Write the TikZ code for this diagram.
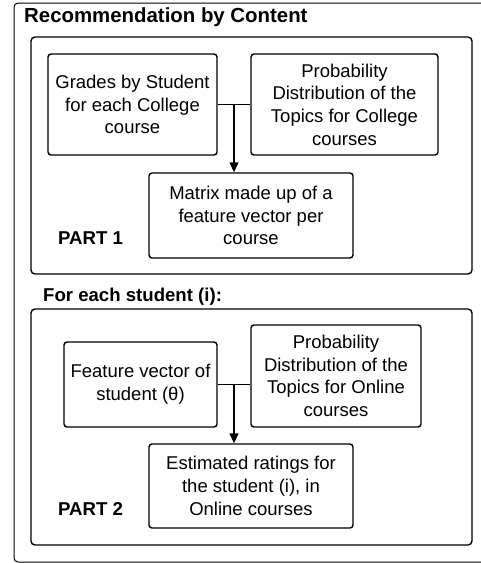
\documentclass[tikz,border=0pt]{standalone}
\usepackage{fontspec}
\setmainfont{Liberation Sans}
\usetikzlibrary{arrows.meta, positioning, calc}

\tikzset{
    stepbox/.style={draw, line width=1.4pt, rounded corners=3pt, align=center, inner sep=0pt,
        font=\fontsize{18.5}{22.7}\selectfont},
    partframe/.style={draw, line width=1.4pt, rounded corners=4pt},
    headlabel/.style={anchor=west, inner sep=0pt, font=\bfseries\fontsize{18.6}{22}\selectfont},
    link/.style={line width=1.4pt},
    flow/.style={line width=1.4pt, -{Triangle[length=10pt, width=9pt]}}
}

\begin{document}
\begin{tikzpicture}[x=1pt, y=-1pt]
    \useasboundingbox (0,0) rectangle (481,563);
    \clip (0,0) rectangle (481,563);

    % outer frame
    \draw[line width=1pt, rounded corners=4pt] (14,3) rectangle (500,562);
    \node[headlabel, font=\bfseries\fontsize{20.4}{24}\selectfont] (title) at (24,17) {Recommendation by Content};

    % PART 1
    \draw[partframe] (31,37) rectangle (472,274);
    \node[stepbox, minimum width=169pt, minimum height=101pt] (grades) at (132.5,104.5)
        {Grades by Student\\for each College\\course};
    \node[stepbox, minimum width=187pt, minimum height=101pt] (topicsc) at (344.5,104.5)
        {Probability\\Distribution of the\\Topics for College\\courses};
    \node[stepbox, minimum width=204pt, minimum height=85pt] (matrix) at (251,215.5)
        {Matrix made up of a\\feature vector per\\course};
    \node[headlabel] (part1) at (58,238) {PART 1};

    \draw[link] (grades.east) -- (topicsc.west);
    \coordinate (j1) at ($(grades.east)!0.5!(topicsc.west)$);
    \draw[flow] (j1) -- (j1 |- matrix.north);

    % PART 2
    \node[headlabel] (each) at (43,297) {For each student (i):};
    \draw[partframe] (31,309) rectangle (472,545);
    \node[stepbox, minimum width=153pt, minimum height=85pt] (feature) at (140.5,384.5)
        {Feature vector of\\student (θ)};
    \node[stepbox, minimum width=170pt, minimum height=102pt] (topicso) at (336,376)
        {Probability\\Distribution of the\\Topics for Online\\courses};
    \node[stepbox, minimum width=204pt, minimum height=84pt] (ratings) at (251,486)
        {Estimated ratings for\\the student (i), in\\Online courses};
    \node[headlabel] (part2) at (58,509) {PART 2};

    \draw[link] (feature.east) -- (feature.east -| topicso.west);
    \coordinate (j2) at ($(feature.east)!0.5!(feature.east -| topicso.west)$);
    \draw[flow] (j2) -- (j2 |- ratings.north);
\end{tikzpicture}
\end{document}
